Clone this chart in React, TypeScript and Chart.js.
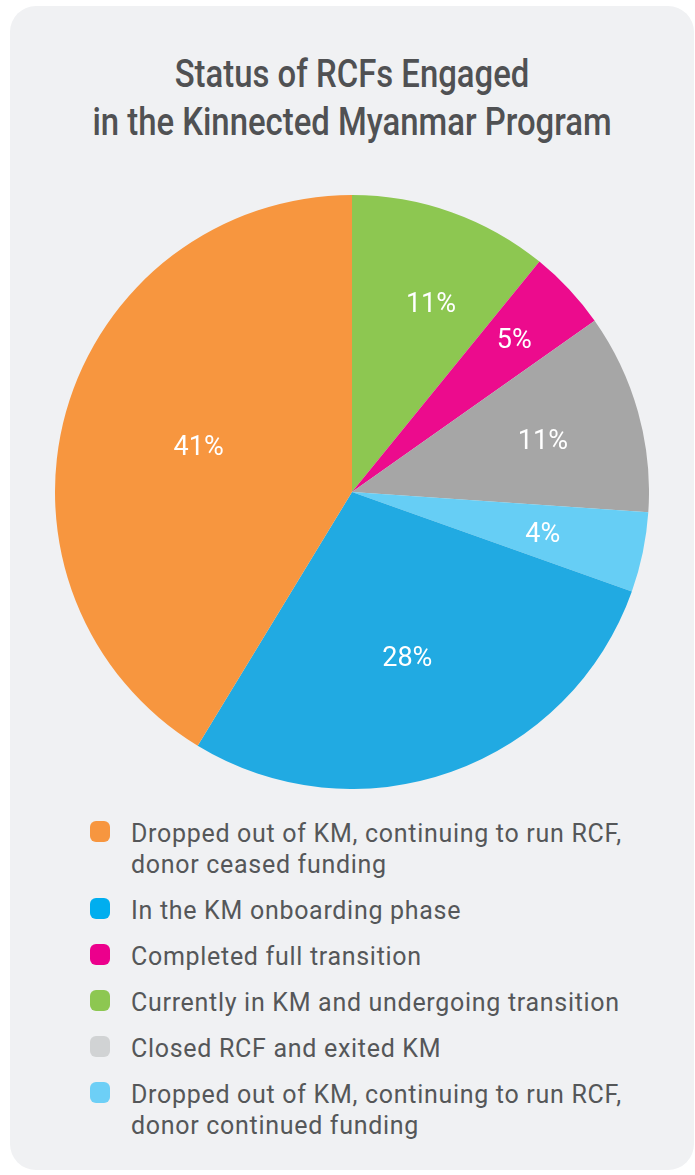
import React, { useEffect, useRef } from "react";
import { Chart, registerables } from "chart.js";

Chart.register(...registerables);

// Pie slices, clockwise from 12 o'clock
const sliceCategories = [
  "Currently in KM and undergoing transition",
  "Completed full transition",
  "Closed RCF and exited KM",
  "Dropped out of KM, continuing to run RCF, donor continued funding",
  "In the KM onboarding phase",
  "Dropped out of KM, continuing to run RCF, donor ceased funding",
];
const sliceValues = [5, 2, 5, 2, 13, 19];
const slicePercentLabels = ["11%", "5%", "11%", "4%", "28%", "41%"];
const sliceColors = ["#8dc751", "#ec0b8d", "#a6a6a6", "#66cef5", "#21aae2", "#f7963f"];

// Legend (its own order)
const legendLines = [
  ["Dropped out of KM, continuing to run RCF,", "donor ceased funding"],
  ["In the KM onboarding phase"],
  ["Completed full transition"],
  ["Currently in KM and undergoing transition"],
  ["Closed RCF and exited KM"],
  ["Dropped out of KM, continuing to run RCF,", "donor continued funding"],
];
const legendColors = ["#f7963f", "#00aeef", "#ec008c", "#8dc751", "#d1d3d4", "#6dcff6"];

const titleLines = ["Status of RCFs Engaged", "in the Kinnected Myanmar Program"];

const labelPlugin = {
  id: "sliceLabels",
  afterDatasetsDraw(chart: any, _args: any, opts: any) {
    const meta = chart.getDatasetMeta(0);
    const ctx = chart.ctx;
    ctx.save();
    ctx.font = `400 ${opts.size}px Roboto`;
    ctx.fillStyle = "#ffffff";
    ctx.textAlign = "center";
    ctx.textBaseline = "alphabetic";
    meta.data.forEach((arc: any, i: number) => {
      const p = arc.getProps(["x", "y", "startAngle", "endAngle", "outerRadius"], true);
      const adj = opts.adjust[i];
      const a = (p.startAngle + p.endAngle) / 2 + (adj[1] * Math.PI) / 180;
      const r = p.outerRadius * adj[0];
      ctx.fillText(opts.texts[i], p.x + Math.cos(a) * r, p.y + Math.sin(a) * r + opts.size * 0.355);
    });
    ctx.restore();
  },
};

function PieChart() {
  const ref = useRef<HTMLCanvasElement | null>(null);
  useEffect(() => {
    if (!ref.current) return;
    const chart = new Chart(ref.current, {
      type: "pie",
      data: {
        labels: sliceCategories,
        datasets: [
          {
            data: sliceValues,
            backgroundColor: sliceColors,
            borderWidth: 0,
          },
        ],
      },
      options: {
        responsive: false,
        animation: false,
        layout: { padding: 0 },
        plugins: {
          legend: { display: false },
          tooltip: { enabled: false },
          title: { display: false },
          sliceLabels: {
            texts: slicePercentLabels,
            size: 27,
            adjust: [
              [0.693, 3.0],
              [0.751, -0.3],
              [0.667, 0.15],
              [0.657, 0.36],
              [0.585, 1.0],
              [0.54, 1.35],
            ],
          },
        } as any,
      },
      plugins: [labelPlugin as any],
    });
    return () => chart.destroy();
  }, []);
  return (
    <canvas
      ref={ref}
      width={594}
      height={594}
      style={{ position: "absolute", left: 45, top: 189, width: 594, height: 594 }}
    />
  );
}

export default function App() {
  return (
    <div
      style={{
        position: "absolute",
        left: 10,
        top: 6,
        width: 684,
        height: 1164,
        background: "#f0f1f3",
        borderRadius: 26,
        fontFamily: "Roboto, sans-serif",
        overflow: "hidden",
      }}
    >
      <div
        style={{
          position: "absolute",
          left: 0,
          right: 0,
          top: 45,
          textAlign: "center",
          color: "#505153",
          fontFamily: "Roboto, sans-serif",
          fontWeight: 500,
          fontSize: 38,
          lineHeight: "47.5px",
        }}
      >
        {titleLines.map((t, i) => (
          <div key={i} style={{ transform: "scaleX(0.865)", transformOrigin: "center", whiteSpace: "nowrap" }}>
            {t}
          </div>
        ))}
      </div>
      <PieChart />
      <div
        style={{
          position: "absolute",
          left: 80,
          top: 812,
          color: "#555759",
          fontSize: 25,
          letterSpacing: "0.7px",
          lineHeight: "31px",
        }}
      >
        {legendLines.map((lines, i) => (
          <div key={i} style={{ display: "flex", alignItems: "flex-start", marginBottom: 15 }}>
            <div
              style={{
                width: 20,
                height: 21,
                borderRadius: 6,
                background: legendColors[i],
                marginTop: 3,
                marginRight: 21,
                flex: "none",
              }}
            />
            <div>
              {lines.map((l, j) => (
                <div key={j} style={{ whiteSpace: "nowrap" }}>
                  {l}
                </div>
              ))}
            </div>
          </div>
        ))}
      </div>
    </div>
  );
}
